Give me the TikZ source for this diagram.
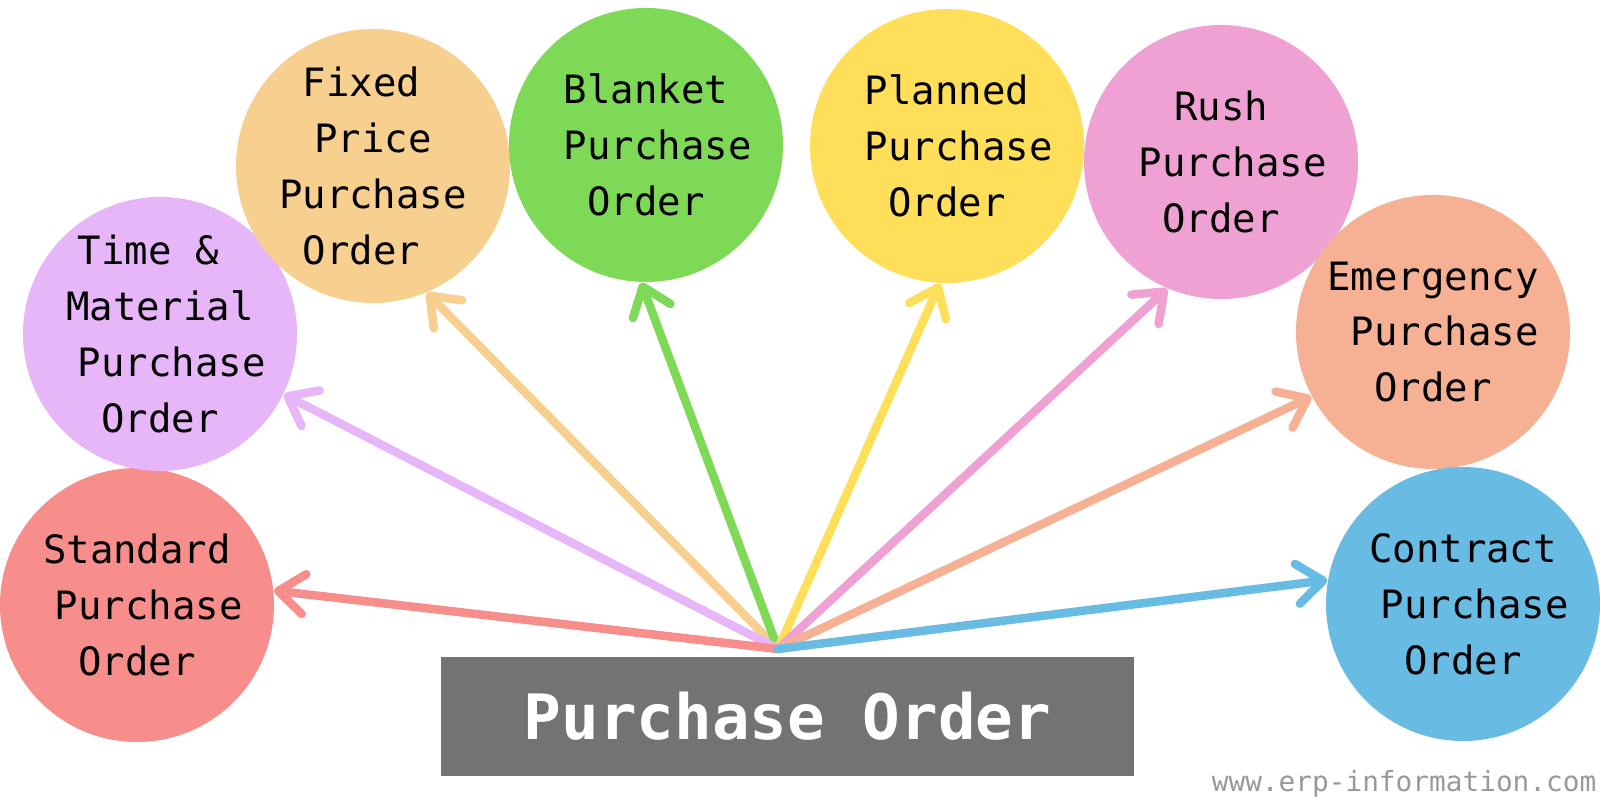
\documentclass[tikz,border=0pt]{standalone}
\usepackage{fontspec}
\setmainfont{DejaVu Sans Mono}
\usetikzlibrary{arrows.meta}

\definecolor{cstd}{HTML}{F88E8C}
\definecolor{ctm}{HTML}{E6B6F8}
\definecolor{cfix}{HTML}{F7CF8E}
\definecolor{cbla}{HTML}{7ED957}
\definecolor{cpla}{HTML}{FFDE59}
\definecolor{crus}{HTML}{F0A1D4}
\definecolor{ceme}{HTML}{F6B194}
\definecolor{ccon}{HTML}{68BBE2}
\definecolor{cbox}{HTML}{737373}

\newcommand{\hs}{\hphantom{x}}

\begin{document}
\begin{tikzpicture}[main/.style = {circle, minimum size=2.74cm, inner sep=-3mm,
      align=center, font=\fontsize{11.1}{15.9}\selectfont},
      po/.style = {line width=0.085cm, line cap=round,
      -{Straight Barb[length=2.6mm, width=4mm, round]}}]
      \useasboundingbox (0,0) rectangle (16,8);

      \node[main, fill=cstd] (std) at (1.37,1.95) {Standard\\\hs Purchase\\Order};
      \node[main, fill=ctm] (tm) at (1.60,4.66) {Time \&\hs\\Material\\\hs Purchase\\Order};
      \node[main, fill=cfix] (fix) at (3.73,6.34) {Fixed\hs\\Price\\Purchase\\Order\hs};
      \node[main, fill=cbla] (bla) at (6.46,6.55) {Blanket\\\hs Purchase\\Order};
      \node[main, fill=cpla] (pla) at (9.47,6.54) {Planned\\\hs Purchase\\Order};
      \node[main, fill=crus] (rus) at (12.21,6.38) {Rush\\\hs Purchase\\Order};
      \node[main, fill=ceme] (eme) at (14.33,4.68) {Emergency\\\hs Purchase\\Order};
      \node[main, fill=ccon] (con) at (14.63,1.96) {Contract\\\hs Purchase\\Order};

      \node[fill=cbox, minimum width=6.93cm, minimum height=1.19cm,
        text=white, font=\fontsize{17.8}{20}\selectfont\bfseries]
        (po) at (7.875,0.835) {Purchase Order};
      \coordinate (src) at (7.78,1.51);

      \draw[po, cfix] (src) -- (fix.-67);
      \draw[po, cbla] (src) -- (bla.-92);
      \draw[po, cpla] (src) -- (pla.-93);
      \draw[po, crus] (src) -- (rus.-113);
      \draw[po, ceme] (src) -- (eme.-152);
      \draw[po, ctm] (src) -- (tm.-26);
      \draw[po, cstd] (src) -- (std.6);
      \draw[po, ccon] (src) -- (con.170);

      \node[anchor=base east, text=gray!80, inner sep=0pt,
        font=\fontsize{7.9}{9}\selectfont] (web) at (15.97,0.09)
        {www.erp-information.com};
    \end{tikzpicture}
\end{document}
